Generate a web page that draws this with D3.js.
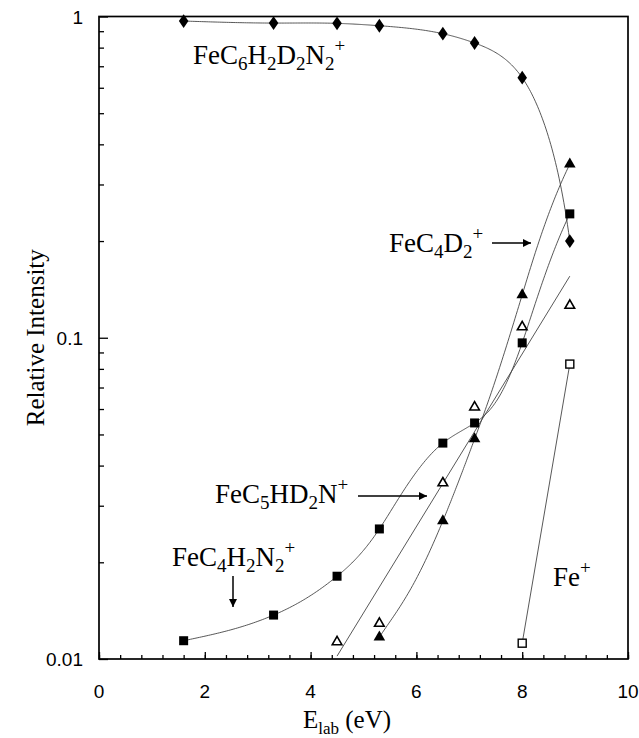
<!DOCTYPE html>
<html><head><meta charset="utf-8">
<script src="https://cdn.jsdelivr.net/npm/d3@7"></script>
<style>
body{margin:0;background:#fff}
.serif{font-family:"Liberation Serif","DejaVu Serif","Times New Roman",serif}
.sans{font-family:"Liberation Sans",Arial,Helvetica,sans-serif}
</style>
</head><body><svg id="c" width="639" height="738"></svg>
<script>
// ---- data ----
const parentX = [1.6, 3.3, 4.5, 5.3, 6.5, 7.1, 8.0, 8.9];
const parentY = [0.968, 0.954, 0.952, 0.936, 0.884, 0.827, 0.645, 0.200];      // FeC6H2D2N2+
const sqX = [1.6, 3.3, 4.5, 5.3, 6.5, 7.1, 8.0, 8.9];
const sqY = [0.0114, 0.0137, 0.0181, 0.0254, 0.0470, 0.0543, 0.0964, 0.243];    // FeC4H2N2+
const triX = [5.3, 6.5, 7.1, 8.0, 8.9];
const triY = [0.0117, 0.0269, 0.0484, 0.136, 0.347];                            // FeC4D2+
const otriX = [4.5, 5.3, 6.5, 7.1, 8.0, 8.9];
const otriY = [0.0113, 0.0129, 0.0353, 0.0608, 0.108, 0.126];                  // FeC5HD2N+
const feX = [8.0, 8.9];
const feY = [0.0112, 0.0828];                                                   // Fe+
const xTickLabels = [0, 2, 4, 6, 8, 10];
const yTickLabels = [0.01, 0.1, 1];

const svg = d3.select("#c");
const L = 99, R = 628, T = 16.5, B = 659;
const x = d3.scaleLinear().domain([0, 10]).range([L, R]);
const y = d3.scaleLog().domain([0.01, 1]).range([B, T]);

// natural cubic spline computed in linear (value) space
function naturalSpline(xs, ys, n) {
  const m = xs.length, h = [], al = [], l = [1], mu = [0], z = [0], c = new Array(m).fill(0), b = [], d = [];
  for (let i = 0; i < m - 1; i++) h[i] = xs[i+1] - xs[i];
  for (let i = 1; i < m - 1; i++) al[i] = 3/h[i]*(ys[i+1]-ys[i]) - 3/h[i-1]*(ys[i]-ys[i-1]);
  for (let i = 1; i < m - 1; i++) {
    l[i] = 2*(xs[i+1]-xs[i-1]) - h[i-1]*mu[i-1];
    mu[i] = h[i]/l[i];
    z[i] = (al[i] - h[i-1]*z[i-1])/l[i];
  }
  for (let j = m - 2; j >= 1; j--) c[j] = z[j] - mu[j]*c[j+1];
  c[0] = 0;
  for (let j = 0; j < m - 1; j++) {
    b[j] = (ys[j+1]-ys[j])/h[j] - h[j]*(c[j+1] + 2*c[j])/3;
    d[j] = (c[j+1]-c[j])/(3*h[j]);
  }
  const out = [];
  for (let j = 0; j < m - 1; j++) {
    for (let k = 0; k < n; k++) {
      const t = h[j]*k/n;
      out.push([xs[j]+t, ys[j] + b[j]*t + c[j]*t*t + d[j]*t*t*t]);
    }
  }
  out.push([xs[m-1], ys[m-1]]);
  return out.filter(p => p[1] > 0.0095);
}

// clip
svg.append("clipPath").attr("id","clip").append("rect")
  .attr("x",L).attr("y",T).attr("width",R-L).attr("height",B-T);

// frame
svg.append("rect").attr("x",L).attr("y",T).attr("width",R-L).attr("height",B-T)
  .attr("fill","none").attr("stroke","#000").attr("stroke-width",1.7);

// y axis (ticks inward)
const yMinor = [];
[0.01, 0.1].forEach(d => { for (let k = 2; k <= 9; k++) yMinor.push(d * k); });
const yAxMinor = d3.axisLeft(y).tickValues(yMinor).tickSize(-5).tickFormat("");
const yAxMajor = d3.axisLeft(y).tickValues(yTickLabels).tickSize(-9).tickFormat("");
[yAxMinor, yAxMajor].forEach(ax => {
  const g = svg.append("g").attr("transform", `translate(${L},0)`).call(ax);
  g.select(".domain").remove();
  g.selectAll("line").attr("stroke","#000").attr("stroke-width",1.3);
});
svg.append("g").selectAll("text").data(yTickLabels).join("text")
  .attr("class","sans")
  .attr("x", L - 16).attr("y", d => y(d) + 7).attr("text-anchor","end")
  .attr("font-size", 19).text(d => d);

// x axis (ticks inward)
const xMinor = d3.range(0, 26).map(i => +(i * 0.4).toFixed(1));
const xAxMinor = d3.axisBottom(x).tickValues(xMinor).tickSize(-4).tickFormat("");
const xAxMajor = d3.axisBottom(x).tickValues(xTickLabels).tickSize(-7).tickFormat("");
[xAxMinor, xAxMajor].forEach(ax => {
  const g = svg.append("g").attr("transform", `translate(0,${B})`).call(ax);
  g.select(".domain").remove();
  g.selectAll("line").attr("stroke","#000").attr("stroke-width",1.3);
});
svg.append("g").selectAll("text").data(xTickLabels).join("text")
  .attr("class","sans")
  .attr("x", d => x(d)).attr("y", B + 39).attr("text-anchor","middle")
  .attr("font-size", 19).text(d => d);

// axis titles
svg.append("text").attr("class","serif")
  .attr("transform", `translate(44,${(T+B)/2}) rotate(-90)`)
  .attr("text-anchor","middle").attr("font-size", 25)
  .text("Relative Intensity");
const xt = svg.append("text").attr("class","serif")
  .attr("x", 347).attr("y", 728).attr("text-anchor","middle").attr("font-size", 25);
xt.append("tspan").text("E");
xt.append("tspan").attr("font-size", 17).attr("dy", 6).text("lab");
xt.append("tspan").attr("dy", -6).text(" (eV)");

// curves
const plot = svg.append("g").attr("clip-path","url(#clip)");
const line = d3.line().x(d => x(d[0])).y(d => y(d[1]));
const zipPts = (xs, ys) => xs.map((v, i) => [v, ys[i]]);
function addPath(pts) {
  plot.append("path").attr("d", line(pts)).attr("fill","none")
    .attr("stroke","#3a3a3a").attr("stroke-width",0.85);
}
addPath(naturalSpline(parentX, parentY, 40));
addPath(naturalSpline(sqX, sqY, 40));
addPath(naturalSpline(triX, triY, 40));
addPath(zipPts(feX, feY));
// least-squares fit (log scale) for FeC5HD2N+
(function(){
  const lx = otriX, ly = otriY.map(Math.log10);
  const mx = d3.mean(lx), my = d3.mean(ly);
  const b = d3.sum(lx.map((v,i) => (v-mx)*(ly[i]-my))) / d3.sum(lx.map(v => (v-mx)*(v-mx)));
  const a = my - b*mx;
  const x0 = d3.min(lx), x1 = d3.max(lx);
  addPath([[x0, Math.pow(10, a+b*x0)], [x1, Math.pow(10, a+b*x1)]]);
})();

// markers
const mk = svg.append("g");
mk.selectAll(".dia").data(zipPts(parentX, parentY)).join("path")
  .attr("d", d3.symbol(d3.symbolDiamond, 55)())
  .attr("transform", d => `translate(${x(d[0])},${y(d[1])}) scale(1.2,1)`)
  .attr("fill","#000");
mk.selectAll(".sq").data(zipPts(sqX, sqY)).join("rect")
  .attr("x", d => x(d[0]) - 4.5).attr("y", d => y(d[1]) - 4.5)
  .attr("width", 9).attr("height", 9).attr("fill","#000");
mk.selectAll(".tri").data(zipPts(triX, triY)).join("path")
  .attr("d", d3.symbol(d3.symbolTriangle, 58)())
  .attr("transform", d => `translate(${x(d[0])},${y(d[1])})`).attr("fill","#000");
mk.selectAll(".otri").data(zipPts(otriX, otriY)).join("path")
  .attr("d", d3.symbol(d3.symbolTriangle, 40)())
  .attr("transform", d => `translate(${x(d[0])},${y(d[1])})`)
  .attr("fill","#fff").attr("stroke","#000").attr("stroke-width",1.6);
mk.selectAll(".osq").data(zipPts(feX, feY)).join("rect")
  .attr("x", d => x(d[0]) - 4).attr("y", d => y(d[1]) - 4)
  .attr("width", 8).attr("height", 8).attr("fill","#fff").attr("stroke","#000").attr("stroke-width",1.4);

// labels
function chem(xp, yp, parts) {
  const t = svg.append("text").attr("class","serif").attr("x", xp).attr("y", yp)
    .attr("font-size", 27);
  let shift = 0;
  parts.forEach(p => {
    const target = p[1] === "sub" ? 6 : p[1] === "sup" ? -12 : 0;
    const s = t.append("tspan").text(p[0]).attr("dy", target - shift);
    if (p[1]) s.attr("font-size", 19);
    shift = target;
  });
}
chem(193, 64, [["FeC"],["6","sub"],["H"],["2","sub"],["D"],["2","sub"],["N"],["2","sub"],["+","sup"]]);
chem(389, 252, [["FeC"],["4","sub"],["D"],["2","sub"],["+","sup"]]);
chem(215, 503, [["FeC"],["5","sub"],["HD"],["2","sub"],["N"],["+","sup"]]);
chem(172, 566, [["FeC"],["4","sub"],["H"],["2","sub"],["N"],["2","sub"],["+","sup"]]);
chem(553, 586, [["Fe"],["+","sup"]]);

// arrows
svg.append("defs").append("marker").attr("id","ah").attr("viewBox","0 0 10 10")
  .attr("refX",10).attr("refY",5).attr("markerWidth",11).attr("markerHeight",8)
  .attr("markerUnits","userSpaceOnUse").attr("orient","auto")
  .append("path").attr("d","M0,0 L10,5 L0,10 z").attr("fill","#000");
function arrow(x1,y1,x2,y2){
  svg.append("line").attr("x1",x1).attr("y1",y1).attr("x2",x2).attr("y2",y2)
    .attr("stroke","#000").attr("stroke-width",1.5).attr("marker-end","url(#ah)");
}
arrow(492, 243, 531, 243);
arrow(358, 496, 427, 496);
arrow(233, 576, 233, 607);
</script></body></html>
